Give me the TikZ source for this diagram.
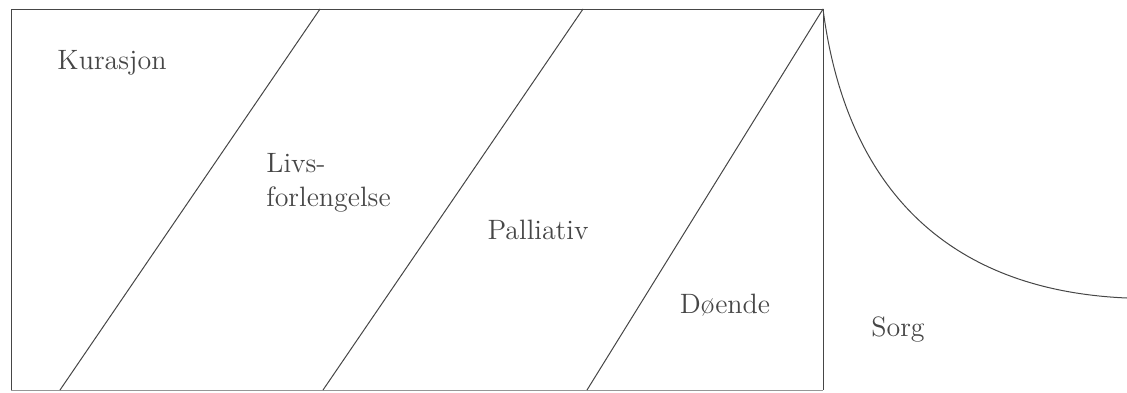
\documentclass[tikz,border=0pt]{standalone}
\usepackage{tikz}
\usetikzlibrary{positioning,calc}
\definecolor{ink}{RGB}{70,70,70}
\definecolor{faint}{RGB}{150,150,150}
\tikzset{
  edge/.style={draw=ink, line width=0.5pt},
  rim/.style={draw=faint, line width=0.5pt},
  phase/.style={text=ink, font=\fontsize{14}{17}\selectfont, inner sep=0pt, align=left},
}

\begin{document}
\begin{tikzpicture}[x=0.5pt, y=-0.5pt]
    \useasboundingbox (0,0) rectangle (1127,392);
    % frame corners
    \coordinate (tl) at (11,9);
    \coordinate (tr) at (823,9);
    \coordinate (bl) at (11,390);
    \coordinate (br) at (823,390);
    \draw[edge] (bl) -- (tl) -- (tr) -- (br);
    \draw[rim] (bl) -- (br);
    % phase borders
    \draw[edge] (320,9) -- (60,390);
    \draw[edge] (583,9) -- (323,390);
    \draw[edge] (tr) -- (587,390);
    % grief curve
    \coordinate (tail) at (1127,298);
    \draw[edge] (tr) .. controls (845,180) and (940,290) .. (tail);

    \node[phase] (kur) at (112,63) {Kurasjon};
    \node[phase, anchor=west] (liv) at (266,183) {Livs-\\forlengelse};
    \node[phase] (pal) at (538,230) {Palliativ};
    \node[phase] (doe) at (725,305) {Døende};
    \node[phase] (sorg) at (898,330) {Sorg};
  \end{tikzpicture}
\end{document}
